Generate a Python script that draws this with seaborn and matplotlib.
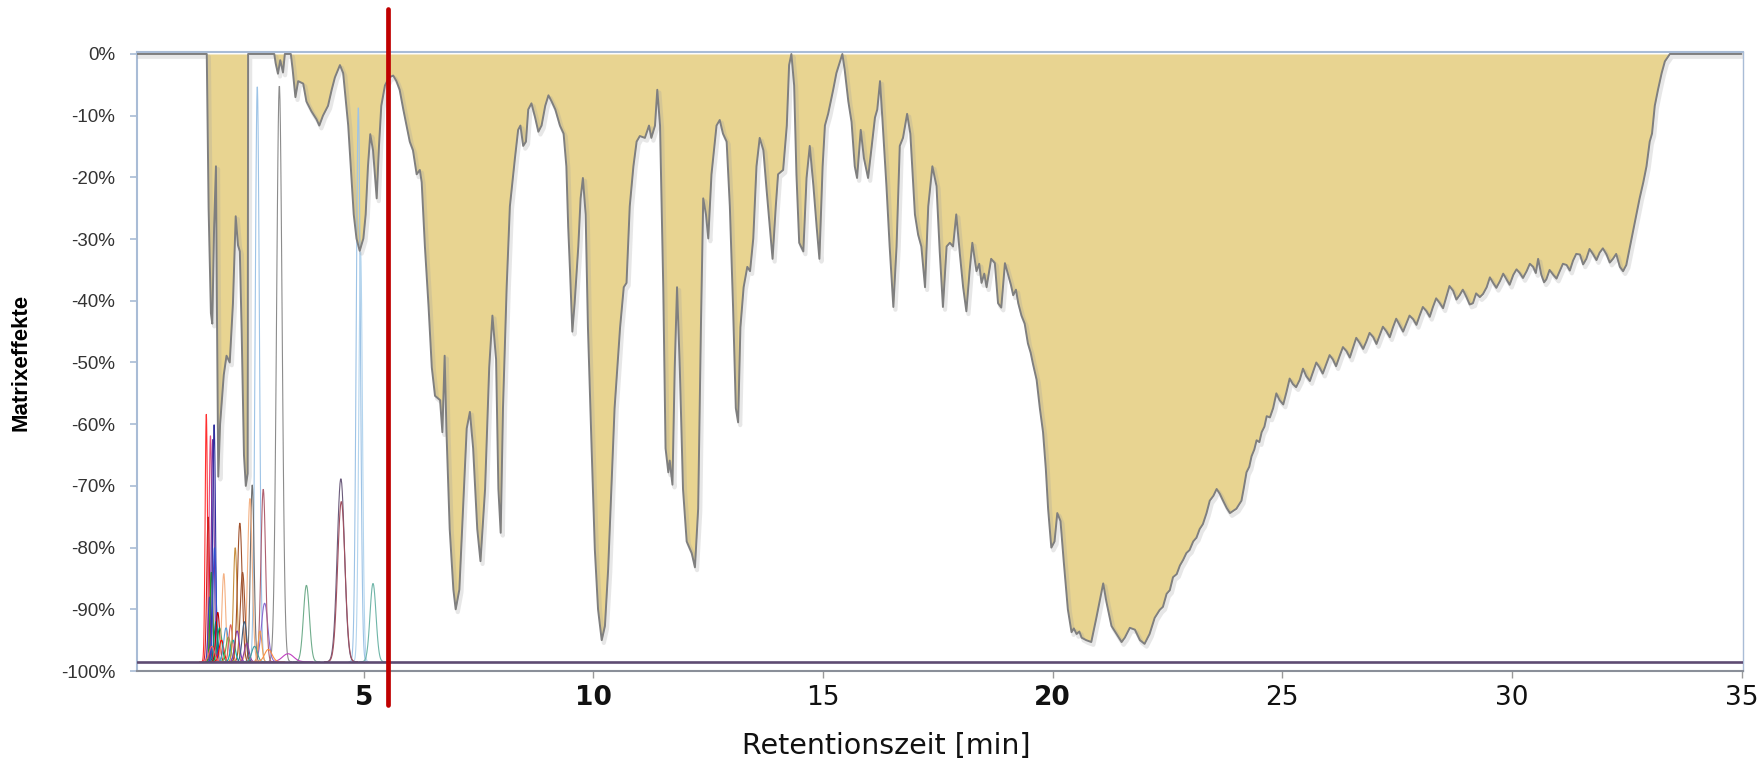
import numpy as np
import pandas as pd
import matplotlib
matplotlib.use("Agg")
import matplotlib.pyplot as plt
import matplotlib.patheffects as pe
import seaborn as sns

# Matrix-effect profile (retention time in min, signal change in %)
time_min = [
    0.00, 1.58, 1.62, 1.67, 1.70, 1.74, 1.78, 1.80, 1.83, 1.87, 1.95, 2.01, 2.08, 2.15, 2.21, 2.26,
    2.30, 2.34, 2.39, 2.43, 2.47, 2.48, 3.05, 3.08, 3.13, 3.18, 3.24, 3.28, 3.41, 3.45, 3.51, 3.57,
    3.68, 3.75, 3.86, 3.97, 4.03, 4.11, 4.22, 4.30, 4.37, 4.48, 4.55, 4.66, 4.73, 4.78, 4.84, 4.91,
    4.99, 5.04, 5.09, 5.14, 5.20, 5.28, 5.33, 5.38, 5.46, 5.55, 5.64, 5.71, 5.78, 5.86, 5.93, 6.00, 6.07,
    6.15, 6.22, 6.26, 6.33, 6.41, 6.48, 6.55, 6.66, 6.71, 6.76, 6.80, 6.87, 6.95, 7.00, 7.08, 7.16,
    7.24, 7.31, 7.38, 7.47, 7.54, 7.64, 7.73, 7.80, 7.88, 7.93, 7.98, 8.03, 8.11, 8.18, 8.29, 8.36,
    8.41, 8.47, 8.53, 8.58, 8.65, 8.73, 8.80, 8.87, 8.95, 9.02, 9.09, 9.17, 9.27, 9.35, 9.41, 9.45,
    9.49, 9.54, 9.59, 9.67, 9.72, 9.77, 9.83, 9.88, 9.96, 10.03, 10.10, 10.18, 10.25, 10.32, 10.39,
    10.46, 10.58, 10.66, 10.72, 10.79, 10.87, 10.94, 11.01, 11.12, 11.21, 11.26, 11.34, 11.39,
    11.45, 11.52, 11.57, 11.63, 11.66, 11.72, 11.77, 11.82, 11.88, 11.95, 12.03, 12.14, 12.21,
    12.28, 12.34, 12.39, 12.45, 12.50, 12.57, 12.68, 12.75, 12.82, 12.90, 12.97, 13.04, 13.10,
    13.15, 13.20, 13.27, 13.35, 13.41, 13.48, 13.55, 13.62, 13.70, 13.77, 13.84, 13.90, 13.97,
    14.02, 14.13, 14.21, 14.26, 14.31, 14.37, 14.42, 14.48, 14.57, 14.64, 14.71, 14.79, 14.86,
    14.92, 14.99, 15.04, 15.11, 15.22, 15.29, 15.37, 15.42, 15.47, 15.55, 15.62, 15.69, 15.74,
    15.82, 15.89, 15.98, 16.06, 16.13, 16.18, 16.24, 16.29, 16.38, 16.45, 16.53, 16.60, 16.67,
    16.74, 16.83, 16.90, 17.00, 17.07, 17.14, 17.22, 17.29, 17.38, 17.47, 17.54, 17.61, 17.69,
    17.76, 17.83, 17.90, 17.98, 18.05, 18.12, 18.19, 18.25, 18.34, 18.40, 18.45, 18.51, 18.56, 18.66, 18.74,
    18.81, 18.88, 18.96, 19.03, 19.09, 19.14, 19.20, 19.25, 19.32, 19.39, 19.46, 19.52, 19.57, 19.65, 19.72, 19.79,
    19.85, 19.90, 19.97, 20.04, 20.10, 20.17, 20.24, 20.33, 20.41, 20.46, 20.52, 20.58, 20.63, 20.73, 20.84,
    20.95, 21.02, 21.10, 21.17, 21.28, 21.39, 21.50, 21.57, 21.68, 21.79, 21.90, 22.00, 22.11,
    22.22, 22.33, 22.40, 22.48, 22.55, 22.62, 22.70, 22.77, 22.84, 22.91, 22.98, 23.06, 23.13, 23.20, 23.27,
    23.35, 23.42, 23.50, 23.57, 23.64, 23.71, 23.79, 23.86,
    24.00, 24.11, 24.16, 24.22, 24.28, 24.33, 24.39, 24.44, 24.50, 24.55, 24.61, 24.66, 24.73, 24.80, 24.87,
    24.94, 25.02, 25.09, 25.16, 25.23, 25.30, 25.38, 25.45, 25.52, 25.60,
    25.67, 25.74, 25.81, 25.88, 25.96, 26.03, 26.10, 26.17, 26.25, 26.32, 26.40, 26.47, 26.54, 26.61,
    26.69, 26.76, 26.83, 26.90, 26.98, 27.05, 27.12, 27.19, 27.27, 27.34, 27.41, 27.48,
    27.56, 27.63, 27.70, 27.77, 27.85, 27.92, 27.99, 28.06, 28.14, 28.21, 28.28, 28.35, 28.43, 28.50,
    28.57, 28.64, 28.72, 28.79, 28.86, 28.93, 29.01, 29.08, 29.15, 29.22, 29.30,
    29.37, 29.45, 29.52, 29.59, 29.66, 29.74, 29.81, 29.88, 29.95, 30.03, 30.10, 30.17, 30.24,
    30.32, 30.39, 30.46, 30.52, 30.57, 30.64, 30.70, 30.75, 30.82, 30.90, 30.97, 31.04,
    31.11, 31.19, 31.26, 31.33, 31.40, 31.48, 31.55, 31.62, 31.69, 31.77, 31.84, 31.91, 31.98,
    32.06, 32.13, 32.20, 32.27, 32.35, 32.42, 32.49, 32.57, 32.64, 32.71,
    32.78, 32.86, 32.93, 33.00, 33.05, 33.11, 33.18, 33.26, 33.33, 33.44, 35.00,
]
matrix_effect = [
    0.0, 0.0, -25.0, -42.0, -43.7, -28.0, -18.2, -40.0, -68.5, -60.0, -52.0, -48.9, -50.0, -40.4, -26.3, -31.0,
    -32.0, -45.0, -65.0, -70.0, -68.0, 0.0, 0.0, -1.5, -3.2, -1.0, -3.0, 0.0, 0.0, -2.5, -7.0, -4.4,
    -4.8, -7.7, -9.3, -10.6, -11.6, -10.0, -8.4, -5.8, -3.8, -1.8, -3.1, -11.6, -20.1, -26.0, -29.9, -31.9,
    -29.9, -26.0, -18.2, -13.0, -15.6, -23.4, -14.9, -8.4, -5.1, -3.8, -3.5, -4.4, -5.8, -9.0, -11.6, -14.2, -15.6,
    -19.5, -18.8, -20.8, -31.2, -41.0, -50.8, -55.4, -56.1, -61.3, -48.9, -61.3, -77.0, -86.8, -90.0, -86.8, -73.7,
    -60.7, -58.0, -63.9, -77.0, -82.2, -70.5, -50.8, -42.4, -49.5, -70.5, -77.6, -57.4, -37.8, -24.7, -16.9, -12.3,
    -11.6, -14.9, -14.2, -9.0, -8.0, -10.3, -12.6, -11.6, -8.4, -6.7, -7.7, -9.0, -11.6, -12.9, -18.2, -28.0,
    -35.2, -45.0, -40.4, -31.2, -23.4, -20.1, -26.0, -44.3, -63.9, -80.3, -90.0, -95.0, -92.7, -83.5, -70.5,
    -57.4, -44.3, -37.8, -37.1, -24.7, -18.2, -14.2, -13.3, -13.6, -11.6, -13.6, -11.6, -5.8,
    -11.6, -37.8, -63.9, -67.8, -65.9, -69.8, -50.8, -37.8, -50.8, -70.5, -79.0, -80.9, -83.2,
    -73.7, -44.3, -23.4, -26.0, -29.9, -19.5, -11.6, -10.7, -12.9, -14.2, -24.7, -41.0, -57.4,
    -59.7, -44.3, -37.8, -34.5, -35.2, -29.9, -18.2, -13.6, -15.6, -22.0, -28.0, -33.2, -24.7,
    -19.5, -18.8, -11.6, -1.8, 0.0, -5.1, -19.5, -30.6, -32.0, -20.1, -14.9, -21.4, -28.0,
    -33.2, -18.2, -11.6, -9.7, -5.8, -3.1, -1.2, 0.0, -2.5, -7.7, -11.0, -18.2, -20.1,
    -12.3, -16.9, -20.1, -14.9, -10.3, -9.0, -4.4, -10.3, -21.4, -31.2, -41.0, -31.2, -14.9,
    -13.6, -9.7, -12.9, -26.0, -29.3, -31.2, -37.8, -24.7, -18.2, -21.4, -32.0, -41.0, -31.2,
    -30.6, -31.2, -26.0, -32.5, -37.8, -41.7, -35.2, -30.6, -35.2, -34.0, -37.1, -35.6, -37.8, -33.2, -33.9,
    -40.4, -41.1, -33.9, -35.8, -37.4, -39.1, -38.2, -40.4, -42.4, -43.7, -46.9, -48.4, -50.2, -52.8, -57.4, -61.3,
    -67.2, -73.7, -80.0, -79.0, -74.4, -75.7, -82.2, -90.0, -93.7, -93.1, -94.0, -93.6, -94.6, -95.0, -95.3,
    -91.4, -88.8, -85.8, -88.8, -92.7, -94.0, -95.3, -94.6, -93.0, -93.3, -95.0, -95.6, -94.0,
    -91.4, -90.1, -89.6, -87.5, -86.9, -84.8, -84.3, -82.9, -82.0, -80.9, -80.4, -79.0, -78.4, -77.0, -76.2,
    -74.4, -72.4, -71.6, -70.5, -71.3, -72.4, -73.6, -74.4,
    -73.7, -72.4, -70.4, -67.8, -66.9, -65.2, -64.1, -62.6, -62.9, -61.3, -60.4, -58.7, -58.9, -57.4, -55.0,
    -56.1, -56.8, -54.8, -52.6, -53.5, -54.0, -52.8, -51.0, -52.2, -53.0,
    -51.5, -50.0, -50.8, -51.8, -50.2, -48.8, -49.5, -50.6, -48.9, -47.5, -48.2, -49.2, -47.6, -46.0,
    -46.9, -47.8, -46.6, -45.2, -45.9, -47.0, -45.6, -44.2, -45.0, -45.9, -44.3, -42.9,
    -44.0, -45.0, -43.7, -42.4, -43.0, -43.9, -42.4, -41.0, -41.7, -42.6, -41.0, -39.6, -40.4, -41.2,
    -39.4, -37.6, -38.4, -39.8, -39.1, -38.2, -39.4, -40.6, -40.4, -38.8, -39.4,
    -38.9, -37.8, -36.2, -37.1, -37.9, -36.8, -35.6, -36.5, -37.4, -35.8, -34.9, -35.5, -36.3,
    -35.2, -34.0, -34.5, -35.5, -33.2, -35.8, -37.0, -36.5, -35.0, -35.8, -36.4, -35.2,
    -34.0, -34.2, -35.1, -33.5, -32.4, -32.5, -34.1, -33.2, -31.6, -32.5, -33.4, -32.2, -31.5,
    -32.5, -33.8, -33.2, -32.4, -34.5, -35.2, -34.2, -31.2, -28.6, -26.0,
    -23.4, -20.8, -18.2, -14.2, -12.9, -8.4, -5.8, -3.1, -1.2, 0.0, 0.0,
]

# Analyte chromatogram peaks: retention time, apex level, peak width (sigma), trace colour
peak_rt = [2.68, 3.16, 4.88, 4.93, 4.50, 4.51, 3.75, 5.20, 2.84, 3.35, 2.81, 2.57, 2.74, 2.52, 2.36,
           1.57, 1.66, 1.71, 1.61, 1.64, 1.68, 1.74, 1.75, 1.78, 1.82, 1.86, 1.95, 1.90, 2.00, 2.05,
           2.10, 2.15, 2.20, 2.24, 2.30, 2.40, 1.69, 2.45, 2.62, 2.92]
peak_apex = [-5.1, -5.0, -8.5, -32.0, -68.8, -72.5, -86.1, -85.8, -89.0, -97.2, -70.5, -69.8, -93.5, -72.0, -84.0,
             -58.3, -61.8, -62.4, -75.0, -88.0, -84.0, -60.0, -80.0, -92.0, -90.5, -93.0, -84.2, -95.0, -93.0, -94.5,
             -92.5, -95.0, -80.0, -93.5, -76.0, -92.0, -96.0, -95.5, -96.0, -96.5]
peak_sigma = [0.045, 0.06, 0.045, 0.04, 0.08, 0.08, 0.065, 0.065, 0.07, 0.12, 0.05, 0.04, 0.04, 0.05, 0.05,
              0.025, 0.03, 0.03, 0.03, 0.03, 0.03, 0.03, 0.035, 0.04, 0.04, 0.05, 0.04, 0.05, 0.05, 0.05,
              0.04, 0.05, 0.04, 0.05, 0.05, 0.05, 0.06, 0.05, 0.06, 0.08]
peak_color = ['#9dc3e6', '#8c8c8c', '#9dc3e6', '#b4d5ee', '#6b5b7b', '#a05060', '#70ad8c', '#6fb5a8', '#8a6ad0', '#c040c0',
              '#b06070', '#707070', '#f0a050', '#f4b183', '#a0522d',
              '#ff3030', '#e05080', '#7030a0', '#d02020', '#4040c0', '#20a020', '#3030a0', '#3050d0', '#008080', '#c00000',
              '#00a050', '#f4b183', '#ff0000', '#5b9bd5', '#70ad47', '#e06060', '#00b0b0', '#c89040', '#8030c0', '#a0522d',
              '#406080', '#ff6060', '#9040a0', '#40a0a0', '#ff9040']

baseline_level = -98.5
cutoff_time = 5.52
cutoff_span = [7.3, -105.5]
y_ticks = [0, -10, -20, -30, -40, -50, -60, -70, -80, -90, -100]
x_ticks = [5, 10, 15, 20, 25, 30, 35]
bold_x_labels = ["5", "10", "20"]

sns.set_theme(style="white")
plt.rcParams["font.family"] = ["DejaVu Sans"]

fig = plt.figure(figsize=(17.65, 7.62), dpi=100)
ax = fig.add_axes([0.0776, 0.1194, 0.9099, 0.8130])

# Chromatogram traces sitting on the common baseline
rows = []
for i, (rt, apex, sig) in enumerate(zip(peak_rt, peak_apex, peak_sigma)):
    t = np.linspace(rt - 4.5 * sig, rt + 4.5 * sig, 60)
    y = baseline_level + (apex - baseline_level) * np.exp(-0.5 * ((t - rt) / sig) ** 2)
    rows.append(pd.DataFrame({"t": t, "y": y, "peak": f"p{i}"}))
traces = pd.concat(rows, ignore_index=True)
palette = {f"p{i}": c for i, c in enumerate(peak_color)}

# Matrix effect area with its outline
ax.fill_between(time_min, 0, matrix_effect, color="#E8D491", lw=0, zorder=1)
sns.lineplot(data=traces, x="t", y="y", hue="peak", palette=palette, estimator=None,
             sort=False, legend=False, lw=0.8, ax=ax, zorder=2)
sns.lineplot(x=time_min, y=matrix_effect, estimator=None, sort=False, color="#7f7f7f", lw=1.4, ax=ax,
             zorder=3,
             path_effects=[pe.SimpleLineShadow(offset=(1.5, -2.0), shadow_color="#a0a0a0", alpha=0.25,
                                               linewidth=3.0),
                           pe.Normal()])
ax.axhline(baseline_level, color="#5e4b72", lw=1.9, zorder=4)
ax.plot([cutoff_time, cutoff_time], cutoff_span, color="#C00000", lw=3.4, clip_on=False, zorder=6)

ax.set_xlim(0.06, 35.03)
ax.set_ylim(-99.68, 0.4)
ax.set_xlabel("")
ax.set_ylabel("")

ax.set_yticks(y_ticks)
ax.set_yticklabels([f"{v}%" for v in y_ticks], family="Liberation Sans", fontsize=13.5, color="#333333")
ax.set_xticks(x_ticks)
ax.set_xticklabels([str(v) for v in x_ticks], family="DejaVu Sans", fontsize=19, color="#111111")
for lab in ax.get_xticklabels():
    if lab.get_text() in bold_x_labels:
        lab.set_fontweight("bold")

ax.tick_params(axis="y", direction="out", length=5, width=1.2, color="#a9bcd6", pad=10.5, left=True)
ax.tick_params(axis="x", direction="out", length=5, width=1.0, color="#9a9a9a", pad=5, bottom=True)

for side in ["left", "top", "right"]:
    ax.spines[side].set_color("#a9bcd6")
    ax.spines[side].set_linewidth(1.5)
ax.spines["right"].set_linewidth(1.0)
ax.spines["bottom"].set_color("#8a8f99")
ax.spines["bottom"].set_linewidth(1.5)

fig.text(21 / 1765, 1 - 362 / 762, "Matrixeffekte", rotation=90, ha="center", va="center",
         family="Liberation Sans", fontweight="bold", fontsize=16, color="#000000")
fig.text(886 / 1765, 1 - 746 / 762, "Retentionszeit [min]", ha="center", va="center",
         family="DejaVu Sans", fontsize=20.5, color="#111111")

fig.savefig("out.png", dpi=100, facecolor="white")
